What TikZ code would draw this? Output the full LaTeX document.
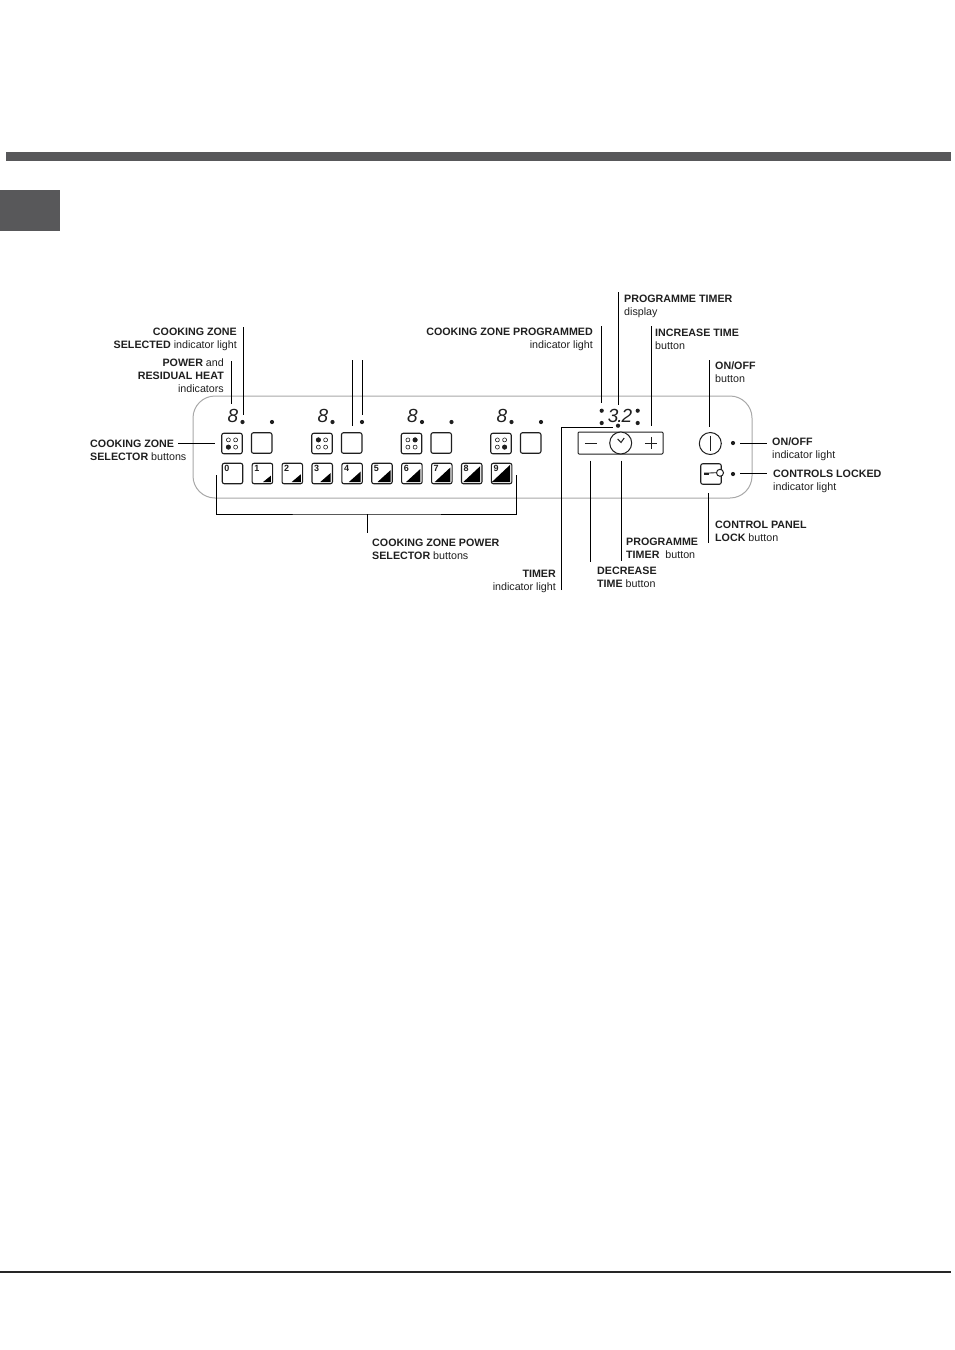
\documentclass[tikz,border=0pt]{standalone}
\usepackage{fontspec}
\setmainfont{Liberation Sans}
\usepackage{xcolor}
\definecolor{barcol}{HTML}{58585A}
\definecolor{panelcol}{HTML}{A8A8A8}
\definecolor{inkcol}{HTML}{1F1F1F}
\usetikzlibrary{positioning,calc}

\begin{document}
\begin{tikzpicture}[x=1pt, y=-1pt, every node/.style={font=\fontsize{10.7}{13}\selectfont, text=inkcol, inner sep=0pt},
        leader/.style={draw=black, line width=0.9pt},
        lamp/.style={circle, fill=inkcol, minimum size=4.2pt},
        btn/.style={draw=inkcol, line width=1.1pt, fill=white, rounded corners=2pt, minimum width=20.5pt, minimum height=20.5pt},
        lblleft/.style={anchor=base west, align=left},
        lblright/.style={anchor=base east, align=right},
        digit/.style={font=\fontsize{19}{19}\selectfont\itshape}]
        \useasboundingbox (0,0) rectangle (954,1350);

        % page furniture
        \fill[barcol] (6,152) rectangle (951,161);
        \fill[barcol] (0,190) rectangle (60,231);
        \draw[line width=1.4pt, black!85] (0,1272) -- (951,1272);

        % panel
        \draw[panelcol, line width=1pt, rounded corners=22pt] (193,396) rectangle (752,498);

        % four cooking zones
        \foreach \i/\x/\fx/\fy in {0/232/-3.6/3.6, 1/322/-3.6/-3.6, 2/411.5/3.6/-3.6, 3/501/3.6/3.6} {
            \node[digit] (num\i) at (\x+1,416) {8};
            \node[lamp] (zonelamp\i) at (\x+10.5,422) {};
            \node[lamp] (proglamp\i) at (\x+40,422) {};
            \node[btn] (sel\i) at (\x,443.5) {};
            \node[btn] (blank\i) at (\x+29.7,443) {};
            \foreach \dx in {-3.6,3.6} \foreach \dy in {-3.6,3.6}
                \draw[inkcol, line width=0.6pt] ($(sel\i)+(\dx,\dy)$) circle (2pt);
            \fill[inkcol] ($(sel\i)+(\fx,\fy)$) circle (2.5pt);
        }

        % power buttons
        \foreach \i in {0,...,9} {
            \node[btn] (pow\i) at (232.5+29.9*\i,473.5) {};
            \node[anchor=north west, font=\fontsize{9}{9}\selectfont\bfseries] (powlbl\i) at ($(pow\i.north west)+(2.5,2)$) {\i};
        }
        \foreach \i in {1,...,9} {
            \pgfmathsetmacro{\w}{6.5+1.3*\i}
            \pgfmathsetmacro{\h}{5+1.35*\i}
            \fill[black] ($(pow\i)+(8.5,8.5)$) -- ++(-\w,0) -- ++(\w,-\h) -- cycle;
        }

        % timer block
        \node[draw=inkcol, line width=1pt, rounded corners=1pt, minimum width=85pt, minimum height=22pt] (timerbar) at (620.5,443) {};
        \node[circle, draw=inkcol, line width=1pt, fill=white, minimum size=22pt] (timerknob) at (620.7,443) {};
        \draw[inkcol, line width=1pt] ($(timerknob)+(-3,-4)$) -- ($(timerknob)+(0.3,-0.5)$) -- ($(timerknob)+(3.5,-5)$);
        \node[draw=none, minimum width=12pt, minimum height=12pt] (minusbtn) at (591,443) {};
        \draw[inkcol, line width=0.8pt] (minusbtn.west) -- (minusbtn.east);
        \node[draw=none, minimum width=12pt, minimum height=12pt] (plusbtn) at (651,443) {};
        \draw[inkcol, line width=0.8pt] (plusbtn.west) -- (plusbtn.east) (plusbtn.north) -- (plusbtn.south);
        \node[digit] (clock) at (620,416) {3\kern-1pt.\kern-1pt2};
        \foreach \n/\x/\y in {a/601.7/410.7, b/601.7/423, c/637.7/410.7, d/637.7/423, e/618/425.7}
            \node[lamp] (clockdot\n) at (\x,\y) {};

        % on/off and key lock
        \node[circle, draw=inkcol, line width=1pt, minimum size=22pt] (onoff) at (710.3,443.5) {};
        \draw[inkcol, line width=0.8pt] ($(onoff)+(0,-8)$) -- ($(onoff)+(0,7)$);
        \node[lamp] (onofflamp) at (733,443) {};
        \node[btn] (lockbtn) at (711,474) {};
        \node[circle, draw=inkcol, line width=1pt, fill=white, minimum size=7pt] (keyring) at (720,472.8) {};
        \draw[inkcol, line width=0.8pt] (704,473) -- (keyring.west);
        \fill[inkcol] (704,473) rectangle (709,475);
        \node[lamp] (locklamp) at (733,474) {};

        % labels
        \node[lblright] (lblselected) at (237,348) {\textbf{COOKING ZONE}\\\textbf{SELECTED} indicator light};
        \node[lblright] (lblpower) at (224,392) {\textbf{POWER} and\\\textbf{RESIDUAL HEAT}\\indicators};
        \node[lblleft] (lblzonesel) at (90,460) {\textbf{COOKING ZONE}\\\textbf{SELECTOR} buttons};
        \node[lblleft] (lblpowsel) at (372,559) {\textbf{COOKING ZONE POWER}\\\textbf{SELECTOR} buttons};
        \node[lblright] (lbltimer) at (556,590) {\textbf{TIMER}\\indicator light};
        \node[lblleft] (lbldec) at (597,587) {\textbf{DECREASE}\\\textbf{TIME} button};
        \node[lblleft] (lblprog) at (626,558) {\textbf{PROGRAMME}\\\textbf{TIMER}\ \ button};
        \node[lblleft] (lbllock) at (715,541) {\textbf{CONTROL PANEL}\\\textbf{LOCK} button};
        \node[lblleft] (lblonlamp) at (772,458) {\textbf{ON/OFF}\\indicator light};
        \node[lblleft] (lbllocked) at (773,490) {\textbf{CONTROLS LOCKED}\\indicator light};
        \node[lblleft] (lblonoff) at (715,382) {\textbf{ON/OFF}\\button};
        \node[lblleft] (lblinc) at (655,349) {\textbf{INCREASE TIME}\\button};
        \node[lblright] (lblprogd) at (593,348.5) {\textbf{COOKING ZONE PROGRAMMED}\\indicator light};
        \node[lblleft] (lbldisplay) at (624,315) {\textbf{PROGRAMME TIMER}\\display};

        % leaders, free ends
        \coordinate (upA) at (243,327);
        \coordinate (downA) at (243,415);
        \coordinate (upB) at (231,361);
        \coordinate (downB) at (231,404);
        \coordinate (upC) at (352.3,360);
        \coordinate (downC) at (352.3,425.7);
        \coordinate (upD) at (362.3,360);
        \coordinate (downD) at (362.3,415);
        \coordinate (upE) at (601.7,326);
        \coordinate (downE) at (601.7,403);
        \coordinate (upF) at (618.3,292);
        \coordinate (downF) at (618.3,405);
        \coordinate (upG) at (651,326);
        \coordinate (downG) at (651,426);
        \coordinate (upH) at (709.3,360);
        \coordinate (downH) at (709.3,427);
        \coordinate (lockT) at (708.7,493);
        \coordinate (lockB) at (708.7,543);
        \coordinate (progT) at (621,460.7);
        \coordinate (progB) at (621,561);
        \coordinate (decT) at (590.7,460.7);
        \coordinate (decB) at (590.7,562);
        \coordinate (timerB) at (561.3,590);
        \coordinate (timerT) at (613,427.7);
        \coordinate (zoneL) at (178,443);
        \coordinate (zoneR) at (214.5,443);
        \coordinate (onL) at (740,443);
        \coordinate (onR) at (767,443);
        \coordinate (lockL) at (740,473);
        \coordinate (lockR) at (767,473);
        \coordinate (brL) at (216.3,475);
        \coordinate (brR) at (516.7,475);
        \coordinate (brM) at (367.3,514);
        \coordinate (brS) at (367.3,533);
        \foreach \a/\b in {upA/downA, upB/downB, upC/downC, upD/downD, upE/downE, upF/downF, upG/downG, upH/downH, lockT/lockB, progT/progB, decT/decB, zoneL/zoneR, onL/onR, lockL/lockR, brM/brS}
            \draw[leader] (\a) -- (\b);
        \draw[leader] (timerB) |- (timerT);
        \draw[leader] (brL) |- (brM) -| (brR);
    \end{tikzpicture}
\end{document}
